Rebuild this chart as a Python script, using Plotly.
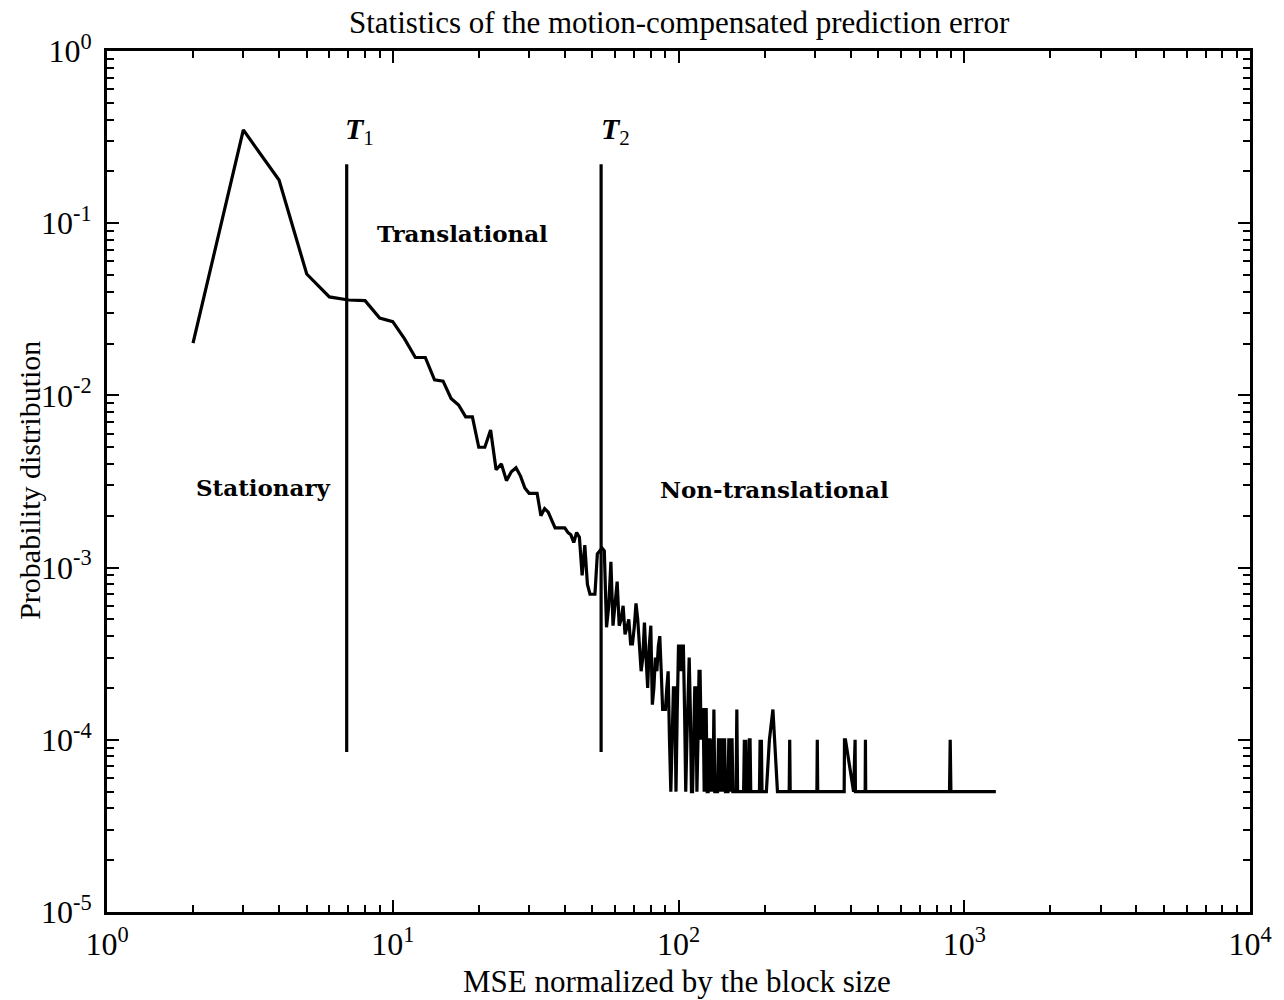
import plotly.graph_objects as go

# Histogram of the per-block MSE (normalized by block size)
mse = [
    2, 3, 4, 5, 6, 7, 8, 9, 10, 11, 12, 13, 14, 15, 16, 17, 18, 19, 20,
    21, 22, 23, 24, 25, 26, 27, 28, 29, 30, 31, 32, 33, 34, 35, 36, 37, 38, 39, 40,
    41, 42, 43, 44, 45, 46, 47, 48, 49, 50, 51, 52, 53, 54, 55, 56, 57, 58, 59, 60,
    61, 62, 63, 64, 65, 66, 67, 68, 69, 70, 71, 72, 73, 74, 75, 76, 77, 78, 79, 80,
    81, 82, 83, 84, 85, 86, 87, 88, 89, 90, 91, 92, 93, 94, 95, 96, 97, 98, 99, 100,
    101, 102, 103, 104, 105, 106, 107, 108, 109, 110, 111, 112, 113, 114, 115, 116,
    117, 118, 119, 120, 121, 122, 123, 124, 125, 126, 127, 128, 129, 130, 131, 132,
    133, 134, 137, 138, 139, 140, 141, 142, 143, 144, 145, 146, 149, 150, 151, 152,
    153, 154, 155, 159, 160, 161, 169, 170, 171, 172, 173, 176, 177, 178, 179, 192,
    193, 194, 195, 196, 203, 208, 214, 222, 244, 245, 246, 305, 306, 307, 380, 381,
    384, 410, 415, 416, 450, 451, 452, 888, 893, 898, 1290,
]
prob = [
    0.0201, 0.348, 0.178, 0.0507, 0.0373, 0.0358, 0.0355, 0.0281, 0.0268, 0.0213,
    0.0166, 0.0166, 0.0123, 0.0121, 0.0096, 0.0088, 0.0075, 0.0075, 0.0050,
    0.0050, 0.0063, 0.0037, 0.0040, 0.0032, 0.0036, 0.0038, 0.0034, 0.0029, 0.0027,
    0.0027, 0.0027, 0.0020, 0.0022, 0.0021, 0.0019, 0.0017, 0.0017, 0.0017, 0.0017,
    0.0016, 0.00155, 0.0014, 0.0016, 0.0015, 0.0009, 0.00135, 0.0008, 0.0007, 0.0007,
    0.0007, 0.0012, 0.00125, 0.0013, 0.00125, 0.00045, 0.0006, 0.00108, 0.00046, 0.0006,
    0.00083, 0.00046, 0.0005, 0.0006, 0.00041, 0.00045, 0.0005, 0.00036, 0.00036, 0.00045,
    0.00062, 0.0005, 0.00035, 0.00025, 0.0003, 0.00048, 0.0003, 0.0002, 0.00035, 0.00046,
    0.00016, 0.0002, 0.0003, 0.00025, 0.00035, 0.0004, 0.00025, 0.00015, 0.00015, 0.00015,
    0.0002, 0.00025, 0.0001, 0.00005, 0.0001, 0.0002, 0.0002, 0.00005, 0.00015, 0.00035,
    0.00035, 0.00025, 0.00035, 0.00035, 0.00015, 0.00005, 0.0001, 0.0002, 0.0003, 0.00015,
    0.00005, 0.00005, 0.0001, 0.0002, 0.0002, 0.00005,
    0.0001, 0.00025, 0.00025, 0.0001, 0.00015, 0.00015, 0.00005, 0.00015, 0.00015, 0.00005,
    0.00005, 0.0001, 0.0001, 0.00005, 0.0001, 0.00005,
    0.00015, 0.00005, 0.00005, 0.0001, 0.0001, 0.00005, 0.0001, 0.0001, 0.00005, 0.0001,
    0.0001, 0.00005, 0.00005, 0.0001, 0.0001, 0.00005,
    0.0001, 0.0001, 0.00005, 0.00005, 0.00015, 0.00005, 0.00005, 0.0001, 0.00005, 0.0001,
    0.00005, 0.00005, 0.0001, 0.0001, 0.00005, 0.00005,
    0.0001, 0.00005, 0.0001, 0.00005, 0.00005, 0.0001, 0.00015, 0.00005, 0.00005, 0.0001,
    0.00005, 0.00005, 0.0001, 0.00005, 0.00005, 0.0001,
    0.0001, 0.00005, 0.0001, 0.00005, 0.00005, 0.0001, 0.00005, 0.00005, 0.0001, 0.00005,
    0.00005,
]

# Class thresholds between stationary / translational / non-translational blocks
thresholds = [6.9, 53.6]
threshold_labels = ["<i><b>T</b></i><sub>1</sub>", "<i><b>T</b></i><sub>2</sub>"]
threshold_span = [8.5e-5, 0.22]

region_labels = ["Stationary", "Translational", "Non-translational"]

x_tick_vals = [1, 10, 100, 1000, 10000]
x_tick_text = ["10<sup>0</sup>", "10<sup>1</sup>", "10<sup>2</sup>", "10<sup>3</sup>", "10<sup>4</sup>"]
y_tick_vals = [1e-5, 1e-4, 1e-3, 1e-2, 1e-1, 1]
y_tick_text = ["10<sup>-5</sup>", "10<sup>-4</sup>", "10<sup>-3</sup>",
               "10<sup>-2</sup>", "10<sup>-1</sup>", "10<sup>0</sup>"]

SERIF = "Liberation Serif, Times New Roman, serif"
WIDE_SERIF = "DejaVu Serif, serif"

# plot-area geometry in pixels, used to place free text
L, R, T, B = 107, 1262, 51, 912


def px(xp):
    return (xp - L) / (R - L)


def py(yp):
    return (B - yp) / (B - T)


def minor_vals(lo, hi):
    return [k * 10.0 ** n for n in range(lo, hi) for k in range(2, 10)]


fig = go.Figure()
fig.add_trace(go.Scatter(x=mse, y=prob, mode="lines",
                         line=dict(color="black", width=3.2), hoverinfo="skip"))
for t in thresholds:
    fig.add_trace(go.Scatter(x=[t, t], y=threshold_span, mode="lines",
                             line=dict(color="black", width=3.2), hoverinfo="skip"))

axis_common = dict(
    type="log",
    showline=True, linecolor="black", linewidth=3, mirror="allticks",
    ticks="inside", ticklen=12, tickwidth=2, tickcolor="black",
    showgrid=False, zeroline=False,
    tickfont=dict(family=SERIF, size=32, color="black"),
    tickmode="array",
)

fig.update_layout(
    width=1284, height=1000,
    margin=dict(l=L, r=1284 - R, t=T, b=1000 - B),
    paper_bgcolor="white", plot_bgcolor="white",
    showlegend=False,
    xaxis=dict(axis_common, range=[0, 4], tickvals=x_tick_vals, ticktext=x_tick_text,
               ticklabelstandoff=2,
               minor=dict(tickmode="array", tickvals=minor_vals(0, 4), ticks="inside",
                          ticklen=7, tickwidth=2, tickcolor="black", showgrid=False)),
    yaxis=dict(axis_common, range=[-5, 0], tickvals=y_tick_vals, ticktext=y_tick_text,
               ticklabelstandoff=6,
               minor=dict(tickmode="array", tickvals=minor_vals(-5, 0), ticks="inside",
                          ticklen=7, tickwidth=2, tickcolor="black", showgrid=False)),
)

title_font = dict(family=SERIF, size=31, color="black")
bold_font = dict(family=WIDE_SERIF, size=23, color="black")

annotations = [
    dict(x=px(686), y=py(22), text="Statistics of the motion-compensated prediction error",
         font=title_font),
    dict(x=px(683), y=py(981), text="MSE normalized by the block size", font=title_font),
    dict(x=px(28), y=py(480), text="Probability distribution",
         font=dict(family=SERIF, size=30, color="black"), textangle=-90),
    dict(x=px(362), y=py(131), text=threshold_labels[0], font=dict(family=SERIF, size=30, color="black")),
    dict(x=px(621), y=py(131), text=threshold_labels[1], font=dict(family=SERIF, size=30, color="black")),
    dict(x=px(265), y=py(487), text="<b>" + region_labels[0] + "</b>", font=bold_font),
    dict(x=px(466), y=py(233), text="<b>" + region_labels[1] + "</b>", font=bold_font),
    dict(x=px(782), y=py(489), text="<b>" + region_labels[2] + "</b>", font=bold_font),
]
for a in annotations:
    a.update(xref="paper", yref="paper", showarrow=False, xanchor="center", yanchor="middle")
fig.update_layout(annotations=annotations)

fig.write_html("out.html")
